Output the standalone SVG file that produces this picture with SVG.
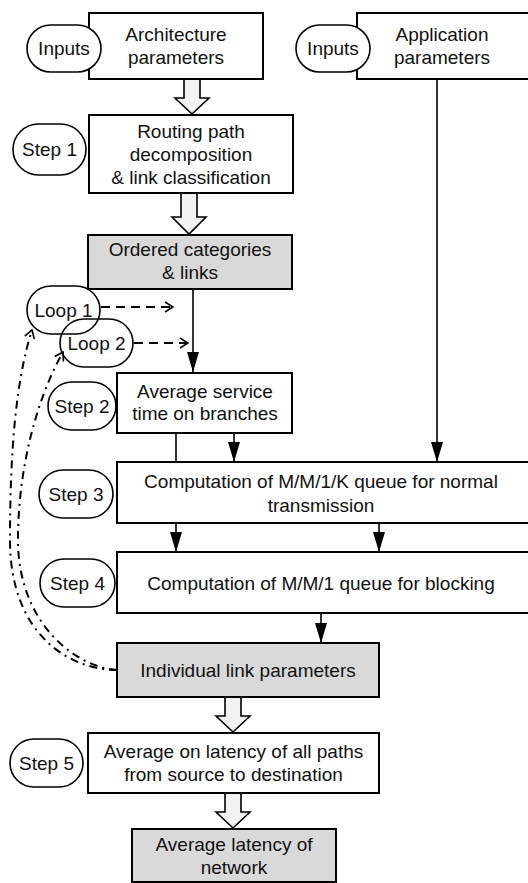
<svg xmlns="http://www.w3.org/2000/svg" width="528" height="883" viewBox="0 0 528 883">
<defs>
<style>
.box{fill:#fff;stroke:#000;stroke-width:2}
.gray{fill:#d9d9d9;stroke:#000;stroke-width:2}
.oval{fill:#fff;stroke:#000;stroke-width:1.6}
.ovn{fill:none;stroke:#000;stroke-width:1.6}
.blk{fill:#f2f2f2;stroke:#000;stroke-width:1.6;stroke-linejoin:miter}
.t{font-family:"Liberation Sans",Arial,sans-serif;font-size:19px;fill:#111;text-anchor:middle}
.ln{fill:none;stroke:#000;stroke-width:1.6}
.dash{fill:none;stroke:#000;stroke-width:2;stroke-dasharray:9 6}
.dd{fill:none;stroke:#000;stroke-width:2;stroke-dasharray:8 5 2 5}
</style>
<marker id="ah" viewBox="0 0 20 12" refX="20" refY="6" markerWidth="20" markerHeight="12" markerUnits="userSpaceOnUse" orient="auto">
<path d="M0,0 L20,6 L0,12 z" fill="#000"/>
</marker>
<marker id="oh" viewBox="0 0 10 12" refX="9" refY="6" markerWidth="10" markerHeight="12" markerUnits="userSpaceOnUse" orient="auto">
<path d="M1,1 L9,6 L1,11" fill="none" stroke="#000" stroke-width="1.6"/>
</marker>
</defs>

<g id="connectors">
<path class="blk" d="M184,79 L200,79 L200,98 L209,98 L192,114 L175,98 L184,98 z"/>
<path class="blk" d="M181,193 L197,193 L197,217 L206,217 L189,234 L172,217 L181,217 z"/>
<path class="blk" d="M225,697 L241,697 L241,716 L250,716 L233,732 L216,716 L225,716 z"/>
<path class="blk" d="M225,793 L241,793 L241,812 L250,812 L233,828 L216,812 L225,812 z"/>
<line class="ln" x1="193" y1="289" x2="193" y2="372" marker-end="url(#ah)"/>
<line class="ln" x1="437" y1="79" x2="437" y2="462" marker-end="url(#ah)"/>
<line class="ln" x1="176" y1="433" x2="176" y2="462"/>
<line class="ln" x1="234" y1="433" x2="234" y2="462" marker-end="url(#ah)"/>
<line class="ln" x1="176" y1="523" x2="176" y2="552" marker-end="url(#ah)"/>
<line class="ln" x1="379" y1="523" x2="379" y2="552" marker-end="url(#ah)"/>
<line class="ln" x1="321" y1="613" x2="321" y2="643" marker-end="url(#ah)"/>
<line class="dash" x1="101" y1="307" x2="173" y2="307" marker-end="url(#oh)"/>
<line class="dash" x1="134" y1="343" x2="188" y2="343" marker-end="url(#oh)"/>
<path class="dd" d="M117,670 C70,670 10,635 10,540 C10,450 16,380 32,330" marker-end="url(#oh)"/>
<path class="dd" d="M117,670 C78,668 18,625 18,540 C18,470 36,400 63,352" marker-end="url(#oh)"/>
</g>

<g id="arch">
<rect class="box" x="89" y="13" width="174" height="66"/>
<text class="t" x="176" y="41">Architecture</text>
<text class="t" x="176" y="64">parameters</text>
</g>
<g id="inputs1">
<rect class="oval" x="27" y="25" width="74" height="47" rx="23.5"/>
<text class="t" x="64" y="55">Inputs</text>
</g>
<g id="app">
<rect class="box" x="357" y="13" width="186" height="66"/>
<text class="t" x="442" y="41">Application</text>
<text class="t" x="442" y="64">parameters</text>
</g>
<g id="inputs2">
<rect class="oval" x="296" y="25" width="74" height="47" rx="23.5"/>
<text class="t" x="333" y="55">Inputs</text>
</g>
<g id="step1box">
<rect class="box" x="89" y="115" width="204" height="78"/>
<text class="t" x="191" y="138">Routing path</text>
<text class="t" x="191" y="161">decomposition</text>
<text class="t" x="191" y="184">&amp; link classification</text>
</g>
<g id="step1">
<rect class="oval" x="13" y="124" width="73" height="51" rx="25.5"/>
<text class="t" x="49.5" y="156">Step 1</text>
</g>
<g id="ordered">
<rect class="gray" x="88" y="235" width="204" height="54"/>
<text class="t" x="190" y="256">Ordered categories</text>
<text class="t" x="190" y="279">&amp; links</text>
</g>
<g id="loop1">
<rect class="ovn" x="27" y="286" width="73" height="48" rx="24"/>
<text class="t" x="63.5" y="316.5">Loop 1</text>
</g>
<g id="loop2">
<rect class="ovn" x="60" y="319" width="73" height="48" rx="24"/>
<text class="t" x="96.5" y="349.5">Loop 2</text>
</g>
<g id="step2box">
<rect class="box" x="117" y="373" width="175" height="60"/>
<text class="t" x="205" y="397.5">Average service</text>
<text class="t" x="205" y="419.5">time on branches</text>
</g>
<g id="step2">
<rect class="oval" x="48" y="382" width="68" height="48" rx="24"/>
<text class="t" x="82" y="412.5">Step 2</text>
</g>
<g id="step3box">
<rect class="box" x="117" y="462" width="423" height="61"/>
<text class="t" x="321" y="487.5">Computation of M/M/1/K queue for normal</text>
<text class="t" x="321" y="511.5">transmission</text>
</g>
<g id="step3">
<rect class="oval" x="39" y="470" width="74" height="48" rx="24"/>
<text class="t" x="76" y="500.5">Step 3</text>
</g>
<g id="step4box">
<rect class="box" x="117" y="552" width="423" height="61"/>
<text class="t" x="321" y="589.5">Computation of M/M/1 queue for blocking</text>
</g>
<g id="step4">
<rect class="oval" x="40" y="559" width="75" height="48" rx="24"/>
<text class="t" x="77.5" y="589.5">Step 4</text>
</g>
<g id="individual">
<rect class="gray" x="117" y="643" width="262" height="54"/>
<text class="t" x="248" y="676.5">Individual link parameters</text>
</g>
<g id="step5box">
<rect class="box" x="88" y="733" width="291" height="60"/>
<text class="t" x="233.5" y="757.5">Average on latency of all paths</text>
<text class="t" x="233.5" y="780.5">from source to destination</text>
</g>
<g id="step5">
<rect class="oval" x="10" y="739" width="73" height="48" rx="24"/>
<text class="t" x="46.5" y="769.5">Step 5</text>
</g>
<g id="latency">
<rect class="gray" x="132" y="829" width="204" height="53"/>
<text class="t" x="234" y="850.5">Average latency of</text>
<text class="t" x="234" y="873.5">network</text>
</g>
</svg>
